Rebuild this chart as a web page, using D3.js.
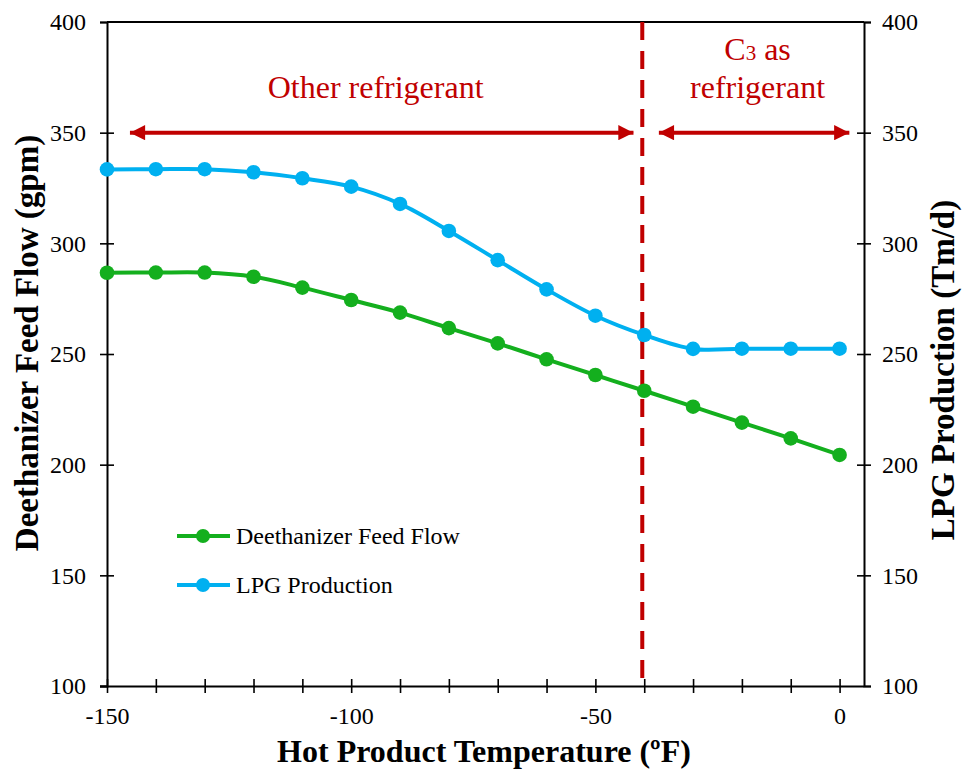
<!DOCTYPE html>
<html>
<head>
<meta charset="utf-8">
<script src="https://cdn.jsdelivr.net/npm/d3@7"></script>
<style>
  html, body { margin: 0; padding: 0; background: #fff; }
  svg { display: block; font-family: "Liberation Serif", "Times New Roman", serif; }
</style>
</head>
<body>
<svg id="chart" width="962" height="769"></svg>
<script>
// Hot product temperature (ºF)
const temperatures = [-150, -140, -130, -120, -110, -100, -90, -80, -70, -60, -50, -40, -30, -20, -10, 0];
// Deethanizer feed flow (gpm), left axis
const feedFlow = [286.7, 286.8, 286.8, 284.9, 280.0, 274.4, 268.7, 261.7, 254.8, 247.6, 240.5, 233.4, 226.2, 219.0, 211.9, 204.4];
// LPG production (Tm/d), right axis
const lpgProduction = [333.4, 333.5, 333.5, 332.1, 329.4, 325.6, 317.8, 305.6, 292.4, 279.2, 267.3, 258.6, 252.3, 252.4, 252.4, 252.4];

const xTicks = d3.range(-150, 1, 10);
const xTickLabels = [-150, -100, -50, 0];
const yTicks = [100, 150, 200, 250, 300, 350, 400];
const boundaryTemp = -40.4;   // switch to C3 as refrigerant

const seriesNames = ["Deethanizer Feed Flow", "LPG Production"];
const seriesColors = ["#14AF1E", "#00B0F0"];
const accent = "#C00000";

const svg = d3.select("#chart");
const m = { left: 107, right: 864, top: 22, bottom: 686 };

const x = d3.scaleLinear().domain([-150, 5]).range([m.left, m.right]);
const yL = d3.scaleLinear().domain([100, 400]).range([m.bottom, m.top]);
const yR = d3.scaleLinear().domain([100, 400]).range([m.bottom, m.top]);

// Frame: top line
svg.append("line")
  .attr("x1", m.left).attr("x2", m.right)
  .attr("y1", m.top).attr("y2", m.top)
  .attr("stroke", "#000").attr("stroke-width", 2);

function styleAxis(g) {
  g.select(".domain").attr("stroke", "#000").attr("stroke-width", 2);
  g.selectAll(".tick line").attr("stroke", "#000").attr("stroke-width", 1.6);
  g.selectAll(".tick text")
    .attr("font-family", "Liberation Serif, Times New Roman, serif")
    .attr("font-size", 24).attr("fill", "#000");
}

// Bottom axis: ticks every 10, labels every 50 (plain hyphen minus)
const xAxis = svg.append("g")
  .attr("transform", `translate(0,${m.bottom})`)
  .call(d3.axisBottom(x).tickValues(xTicks).tickSizeOuter(0).tickSize(7)
    .tickFormat(d => xTickLabels.includes(d) ? String(d) : ""));
styleAxis(xAxis);
xAxis.select(".domain").attr("d", `M${m.left - 7},0.5H${m.right}`);
xAxis.selectAll(".tick line").attr("y1", -7).attr("y2", 7);
xAxis.selectAll(".tick text").attr("dy", "0").attr("y", 38);

// Left axis
const yAxisL = svg.append("g")
  .attr("transform", `translate(${m.left},0)`)
  .call(d3.axisLeft(yL).tickValues(yTicks).tickSizeOuter(0).tickSize(7));
styleAxis(yAxisL);
yAxisL.selectAll(".tick line").attr("x1", -7).attr("x2", d => d === 100 || d === 400 ? 0 : 7);
yAxisL.selectAll(".tick text").attr("x", -21);

// Right axis
const yAxisR = svg.append("g")
  .attr("transform", `translate(${m.right},0)`)
  .call(d3.axisRight(yR).tickValues(yTicks).tickSizeOuter(0).tickSize(7));
styleAxis(yAxisR);
yAxisR.selectAll(".tick line").attr("x1", d => d === 100 || d === 400 ? 0 : -7).attr("x2", 7);
yAxisR.selectAll(".tick text").attr("x", 18);

// Boundary between refrigerant regimes
svg.append("line")
  .attr("x1", x(boundaryTemp)).attr("x2", x(boundaryTemp))
  .attr("y1", m.top).attr("y2", m.bottom)
  .attr("stroke", accent).attr("stroke-width", 4)
  .attr("stroke-dasharray", "18,11");

// Series lines and markers
const series = [
  { name: seriesNames[0], values: feedFlow, color: seriesColors[0], y: yL },
  { name: seriesNames[1], values: lpgProduction, color: seriesColors[1], y: yR }
];

series.forEach(s => {
  const pts = temperatures.map((t, i) => [t, s.values[i]]);
  const line = d3.line()
    .x(d => x(d[0])).y(d => s.y(d[1]))
    .curve(d3.curveCatmullRom.alpha(0.5));
  svg.append("path").datum(pts)
    .attr("d", line).attr("fill", "none")
    .attr("stroke", s.color).attr("stroke-width", 4);
  svg.append("g").selectAll("circle").data(pts).join("circle")
    .attr("cx", d => x(d[0])).attr("cy", d => s.y(d[1]))
    .attr("r", 7.3).attr("fill", s.color);
});

// Arrow heads
const defs = svg.append("defs");
defs.append("marker")
  .attr("id", "arrow").attr("viewBox", "0 0 10 10")
  .attr("refX", 10).attr("refY", 5)
  .attr("markerWidth", 4.2).attr("markerHeight", 3.8)
  .attr("markerUnits", "strokeWidth")
  .attr("orient", "auto-start-reverse")
  .append("path").attr("d", "M0,0L10,5L0,10Z").attr("fill", accent);

const arrowY = yL(350);
[[-145.3, -42.2], [-37, 2]].forEach(([a, b]) => {
  svg.append("line")
    .attr("x1", x(a)).attr("x2", x(b))
    .attr("y1", arrowY).attr("y2", arrowY)
    .attr("stroke", accent).attr("stroke-width", 4)
    .attr("marker-start", "url(#arrow)").attr("marker-end", "url(#arrow)");
});

// Region labels
svg.append("text")
  .attr("x", x(-95)).attr("y", 98)
  .attr("text-anchor", "middle").attr("font-size", 32).attr("fill", accent)
  .text("Other refrigerant");

const c3 = svg.append("text")
  .attr("x", x(-16.8)).attr("y", 60)
  .attr("text-anchor", "middle").attr("font-size", 32).attr("fill", accent);
c3.append("tspan").text("C");
c3.append("tspan").attr("font-size", 21).text("3");
c3.append("tspan").text(" as");

svg.append("text")
  .attr("x", x(-16.8)).attr("y", 98)
  .attr("text-anchor", "middle").attr("font-size", 32).attr("fill", accent)
  .text("refrigerant");

// Axis titles
svg.append("text")
  .attr("transform", `translate(38,343) rotate(-90)`)
  .attr("text-anchor", "middle").attr("font-size", 33).attr("font-weight", "bold")
  .text("Deethanizer Feed Flow (gpm)");

svg.append("text")
  .attr("transform", `translate(954,370) rotate(-90)`)
  .attr("text-anchor", "middle").attr("font-size", 33).attr("font-weight", "bold")
  .text("LPG Production (Tm/d)");

svg.append("text")
  .attr("x", 484).attr("y", 762)
  .attr("text-anchor", "middle").attr("font-size", 32).attr("font-weight", "bold")
  .text("Hot Product Temperature (ºF)");

// Legend
const legend = svg.append("g");
series.forEach((s, i) => {
  const ly = 536 + i * 49;
  legend.append("line")
    .attr("x1", 177).attr("x2", 230).attr("y1", ly).attr("y2", ly)
    .attr("stroke", s.color).attr("stroke-width", 4);
  legend.append("circle").attr("cx", 203).attr("cy", ly).attr("r", 7).attr("fill", s.color);
  legend.append("text")
    .attr("x", 236).attr("y", ly + 8)
    .attr("font-size", 24).attr("fill", "#000")
    .text(s.name);
});
</script>
</body>
</html>
